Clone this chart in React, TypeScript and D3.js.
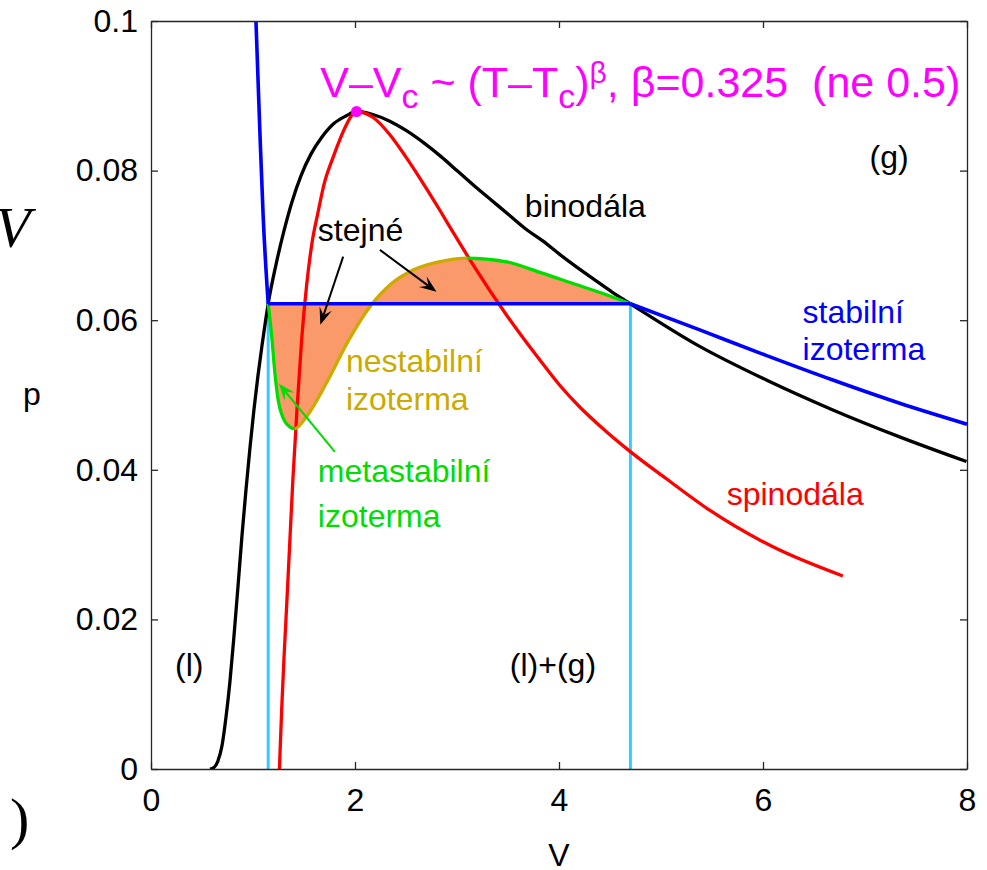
import React, { useEffect, useRef } from 'react';
import * as d3 from 'd3';

// axis ticks
const xTicks = [0, 2, 4, 6, 8];
const yTicks = [0, 0.02, 0.04, 0.06, 0.08, 0.1];

// binodála (black)
const binodalV = [0.578, 0.617, 0.657, 0.696, 0.735, 0.774, 0.813, 0.853, 0.892, 0.931, 0.97, 1.009, 1.048, 1.088, 1.127, 1.149, 1.225, 1.303, 1.382, 1.47, 1.568, 1.676, 1.793, 1.911, 2.015, 2.175, 2.341, 2.508, 2.675, 2.841, 3.008, 3.174, 3.341, 3.508, 3.674, 3.841, 4.007, 4.174, 4.35, 4.517, 4.7, 5.379, 6.033, 6.685, 7.339, 7.995];
const binodalP = [0, 0.0002, 0.0011, 0.0031, 0.0069, 0.0117, 0.0177, 0.0244, 0.0312, 0.0373, 0.0429, 0.048, 0.0525, 0.0566, 0.0603, 0.0622, 0.0674, 0.0719, 0.0758, 0.0793, 0.0822, 0.0845, 0.0863, 0.0873, 0.0879, 0.0875, 0.0866, 0.0853, 0.0837, 0.0819, 0.0799, 0.0779, 0.076, 0.0741, 0.0722, 0.0706, 0.0688, 0.0671, 0.0654, 0.0638, 0.0622, 0.0565, 0.052, 0.048, 0.0444, 0.0411];

// spinodála (red)
const spinodalV = [1.259, 1.281, 1.303, 1.328, 1.357, 1.391, 1.431, 1.477, 1.526, 1.578, 1.637, 1.695, 1.786, 1.918, 1.969, 2.015, 2.178, 2.342, 2.505, 2.668, 2.832, 2.995, 3.158, 3.485, 3.811, 4.007, 4.203, 4.399, 4.693, 5.053, 5.477, 6.097, 6.783];
const spinodalP = [0, 0.0079, 0.0146, 0.0213, 0.0293, 0.0387, 0.048, 0.0574, 0.0647, 0.0703, 0.0744, 0.0781, 0.0818, 0.0862, 0.0874, 0.0879, 0.0871, 0.0848, 0.0817, 0.0783, 0.0747, 0.071, 0.0674, 0.0607, 0.0547, 0.0513, 0.0484, 0.0459, 0.0425, 0.0388, 0.0346, 0.0297, 0.0258];

// stabilní izoterma (blue): liquid branch, plateau, gas branch
const liquidV = [1.01, 1.029, 1.068, 1.1, 1.149];
const liquidP = [0.108, 0.1, 0.085, 0.0738, 0.0622];
const plateauP = 0.0622;
const plateauV = [1.149, 4.7];
const gasV = [4.7, 5.38, 6.03, 6.685, 7.34, 8.0];
const gasP = [0.0622, 0.0587, 0.0553, 0.052, 0.0489, 0.0461];

// van der Waals loop (metastable green / unstable olive)
const loopV = [1.149, 1.181, 1.215, 1.247, 1.296, 1.378, 1.41, 1.524, 1.72, 1.933, 2.146, 2.35, 2.57, 2.897, 3.093, 3.485, 3.811, 4.138, 4.465, 4.7];
const loopP = [0.0622, 0.0582, 0.0529, 0.0493, 0.0469, 0.0456, 0.0455, 0.0471, 0.0516, 0.0572, 0.0618, 0.0648, 0.0667, 0.068, 0.0683, 0.0678, 0.0664, 0.0649, 0.0634, 0.0622];
const loopTurnV = [1.41, 3.093];

const criticalPoint: [number, number] = [2.015, 0.0879];

const arrows = [
  { from: [1.884, 0.0685], to: [1.66, 0.0594], color: '#000' },
  { from: [2.244, 0.0694], to: [2.799, 0.0638], color: '#000' },
  { from: [1.803, 0.0424], to: [1.254, 0.0515], color: '#00dd00' },
];

const labels = [
  { text: 'binodála', v: 3.665, p: 0.0738, color: '#000' },
  { text: '(g)', v: 7.045, p: 0.0803, color: '#000' },
  { text: 'stabilní', v: 6.388, p: 0.0596, color: '#0000ff' },
  { text: 'izoterma', v: 6.388, p: 0.0547, color: '#0000ff' },
  { text: 'spinodála', v: 5.644, p: 0.0353, color: '#ff0000' },
  { text: 'nestabilní', v: 1.911, p: 0.0531, color: '#ccaa00' },
  { text: 'izoterma', v: 1.911, p: 0.048, color: '#ccaa00' },
  { text: 'metastabilní', v: 1.636, p: 0.0384, color: '#00dd00' },
  { text: 'izoterma', v: 1.636, p: 0.0324, color: '#00dd00' },
  { text: 'stejné', v: 1.636, p: 0.0706, color: '#000' },
  { text: '(l)', v: 0.235, p: 0.0125, color: '#000' },
  { text: '(l)+(g)', v: 3.518, p: 0.0125, color: '#000' },
];

const pairs = (vs: number[], ps: number[]) => vs.map((v, i) => [v, ps[i]] as [number, number]);

export default function App() {
  const ref = useRef<SVGSVGElement>(null);

  useEffect(() => {
    const root = d3.select(ref.current);
    root.selectAll('*').remove();

    const margin = { top: 21, right: 20, bottom: 101, left: 151 };
    const width = 987 - margin.left - margin.right;
    const height = 870 - margin.top - margin.bottom;
    const font = 'Liberation Sans, Arial, Helvetica, sans-serif';

    const x = d3.scaleLinear().domain([0, 8]).range([0, width]);
    const y = d3.scaleLinear().domain([0, 0.1]).range([height, 0]);

    const svg = root.append('g').attr('transform', `translate(${margin.left},${margin.top})`);

    const defs = svg.append('defs');
    defs.append('clipPath').attr('id', 'plot')
      .append('rect').attr('width', width).attr('height', height);
    const meta = defs.append('clipPath').attr('id', 'meta');
    meta.append('rect').attr('x', -10).attr('y', 0).attr('width', x(loopTurnV[0]) + 10).attr('height', height);
    meta.append('rect').attr('x', x(loopTurnV[1])).attr('y', 0).attr('width', width - x(loopTurnV[1])).attr('height', height);
    defs.append('clipPath').attr('id', 'unstable')
      .append('rect').attr('x', x(loopTurnV[0])).attr('y', 0)
      .attr('width', x(loopTurnV[1]) - x(loopTurnV[0])).attr('height', height);

    const line = d3.line<[number, number]>()
      .x((d) => x(d[0]))
      .y((d) => y(d[1]))
      .curve(d3.curveMonotoneX);

    const plot = svg.append('g').attr('clip-path', 'url(#plot)');
    const loop = pairs(loopV, loopP);

    // equal areas
    const area = d3.area<[number, number]>()
      .x((d) => x(d[0]))
      .y0(y(plateauP))
      .y1((d) => y(d[1]))
      .curve(d3.curveMonotoneX);
    plot.append('path').attr('d', area(loop)).attr('fill', '#fa9a6a');

    // cyan verticals
    plateauV.forEach((v) => {
      plot.append('line')
        .attr('x1', x(v)).attr('x2', x(v))
        .attr('y1', y(0)).attr('y2', y(plateauP))
        .attr('stroke', '#33ccff').attr('stroke-width', 3);
    });

    plot.append('path').attr('d', line(pairs(binodalV, binodalP)))
      .attr('fill', 'none').attr('stroke', '#000').attr('stroke-width', 3.3);

    plot.append('path').attr('d', line(pairs(spinodalV, spinodalP)))
      .attr('fill', 'none').attr('stroke', '#ff0000').attr('stroke-width', 3.3);

    plot.append('path').attr('d', line(loop)).attr('clip-path', 'url(#meta)')
      .attr('fill', 'none').attr('stroke', '#00dd00').attr('stroke-width', 3.3);
    plot.append('path').attr('d', line(loop)).attr('clip-path', 'url(#unstable)')
      .attr('fill', 'none').attr('stroke', '#ccaa00').attr('stroke-width', 3.3);

    const blue = plot.append('g').attr('fill', 'none').attr('stroke', '#0000ff').attr('stroke-width', 3.6);
    blue.append('path').attr('d', line(pairs(liquidV, liquidP)));
    blue.append('path').attr('d', d3.line()([[x(plateauV[0]), y(plateauP)], [x(plateauV[1]), y(plateauP)]]));
    blue.append('path').attr('d', line(pairs(gasV, gasP)));

    plot.append('circle')
      .attr('cx', x(criticalPoint[0])).attr('cy', y(criticalPoint[1]))
      .attr('r', 5.5).attr('fill', '#ff00ff');

    // arrows
    arrows.forEach((a) => {
      const x1 = x(a.from[0]), y1 = y(a.from[1]);
      const x2 = x(a.to[0]), y2 = y(a.to[1]);
      const ang = Math.atan2(y2 - y1, x2 - x1);
      const ux = Math.cos(ang), uy = Math.sin(ang);
      const nx = -uy, ny = ux;
      const L = 17, W = 6.5, N = 10;
      svg.append('line')
        .attr('x1', x1).attr('y1', y1)
        .attr('x2', x2 - N * ux).attr('y2', y2 - N * uy)
        .attr('stroke', a.color).attr('stroke-width', 2);
      const head = [
        [x2, y2],
        [x2 - L * ux + W * nx, y2 - L * uy + W * ny],
        [x2 - N * ux, y2 - N * uy],
        [x2 - L * ux - W * nx, y2 - L * uy - W * ny],
      ];
      svg.append('path')
        .attr('d', 'M' + head.map((p) => p.join(',')).join('L') + 'Z')
        .attr('fill', a.color);
    });

    // labels
    labels.forEach((l) => {
      svg.append('text')
        .attr('x', x(l.v)).attr('y', y(l.p))
        .attr('fill', l.color)
        .style('font-family', font)
        .style('font-size', '32px')
        .text(l.text);
    });

    // title formula
    const title = svg.append('text')
      .attr('x', x(1.659)).attr('y', y(0.0898))
      .attr('fill', '#ff00ff')
      .style('font-family', font)
      .style('font-size', '43px')
      .style('white-space', 'pre');
    title.append('tspan').text('V\u2013V');
    title.append('tspan').attr('dy', 11).style('font-size', '34px').text('c');
    title.append('tspan').attr('dy', -11).text(' ~ (T\u2013T');
    title.append('tspan').attr('dy', 11).style('font-size', '34px').text('c');
    title.append('tspan').attr('dy', -11).text(')');
    title.append('tspan').attr('dy', -14).style('font-size', '30px').text('\u03b2');
    title.append('tspan').attr('dy', 14).text(', \u03b2=0.325  (ne 0.5)');

    // axes with inward ticks on all sides
    const styleAxis = (g: any) => {
      g.attr('font-family', font).attr('font-size', 32);
      g.select('.domain').attr('stroke', '#262626').attr('stroke-width', 1.3);
      g.selectAll('.tick line').attr('stroke', '#262626').attr('stroke-width', 1.3);
      g.selectAll('.tick text').attr('fill', '#000');
    };
    const fmtY = (d: any) => (d === 0 ? '0' : String(+(+d).toFixed(2)));

    svg.append('g').attr('transform', `translate(0,${height})`)
      .call(d3.axisBottom(x).tickValues(xTicks).tickSize(-7).tickSizeOuter(0).tickPadding(19).tickFormat((d: any) => String(d)))
      .call(styleAxis);
    svg.append('g')
      .call(d3.axisTop(x).tickValues(xTicks).tickSize(-7).tickSizeOuter(0).tickFormat(() => ''))
      .call(styleAxis);
    svg.append('g')
      .call(d3.axisLeft(y).tickValues(yTicks).tickSize(-7).tickSizeOuter(0).tickPadding(13).tickFormat(fmtY))
      .call(styleAxis);
    svg.append('g').attr('transform', `translate(${width},0)`)
      .call(d3.axisRight(y).tickValues(yTicks).tickSize(-7).tickSizeOuter(0).tickFormat(() => ''))
      .call(styleAxis);

    // axis labels
    root.append('text')
      .attr('x', margin.left + width / 2).attr('y', 866)
      .attr('text-anchor', 'middle')
      .style('font-family', font).style('font-size', '32px')
      .text('V');
    root.append('text')
      .attr('x', 32).attr('y', 405)
      .attr('text-anchor', 'middle')
      .style('font-family', font).style('font-size', '32px')
      .text('p');

    // pieces of a neighbouring formula cut off at the left edge
    root.append('text')
      .attr('x', -5).attr('y', 247)
      .style('font-family', 'Liberation Serif, Times New Roman, serif')
      .style('font-style', 'italic').style('font-size', '58px')
      .text('V');
    root.append('text')
      .attr('x', 10).attr('y', 838)
      .style('font-family', 'Liberation Serif, Times New Roman, serif')
      .style('font-size', '58px')
      .text(')');
  }, []);

  return (
    <svg
      ref={ref}
      width={987}
      height={870}
      style={{ position: 'absolute', left: 0, top: 0, background: '#fff' }}
    />
  );
}
